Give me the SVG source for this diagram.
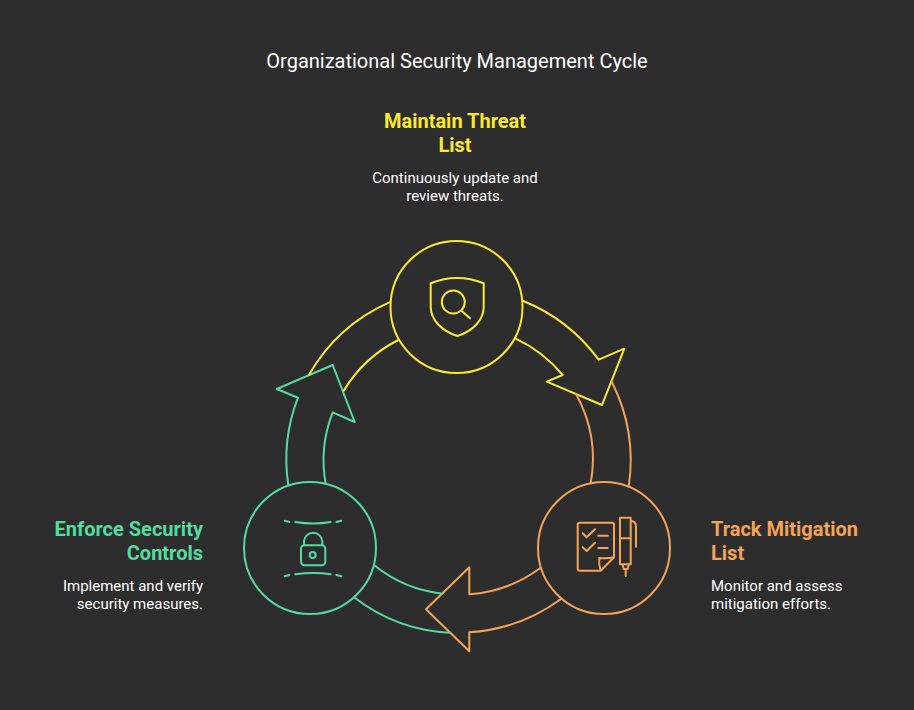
<svg xmlns="http://www.w3.org/2000/svg" width="914" height="710" viewBox="0 0 914 710">
<style>
text{font-family:Roboto,"Liberation Sans",sans-serif}
.title{font-size:20px;fill:#fff;text-anchor:middle}
.h{font-size:20px;font-weight:700}
.d{font-size:15px;fill:#fff}
.s{fill:none;stroke-width:2;stroke-linejoin:round;stroke-linecap:round}
.y{stroke:#fde92f}.o{stroke:#f5a355}.g{stroke:#52dca0}
</style>
<rect width="914" height="710" fill="#2d2d2d"/>
<text class="title" x="457" y="68">Organizational Security Management Cycle</text>
<g id="connectors">
<path class="s y" d="M522.7 300.7A175 175 0 0 1 598.7 359.7L624.3 348.7L602 405L546.7 381.7L562.7 375A137 137 0 0 0 515.7 338.7"/>
<path class="s o" d="M611.7 381.7A174.5 174.5 0 0 1 628.7 486.7M590.7 483.3A135 135 0 0 0 576 394"/>
<path class="s o" d="M540 568.3A135 135 0 0 1 469.3 594.3V567.3L426 609.3L469.3 651.3V632.3A174 174 0 0 0 561 599"/>
<path class="s g" d="M442.3 593.7A131.5 131.5 0 0 1 374.3 565.3M354.7 597.7A170 170 0 0 0 450 632.7"/>
<path class="s g" d="M288.3 485A170 170 0 0 1 298 397.7L276.7 389L332.7 365L354.7 422L332.7 412.3A132 132 0 0 0 325.7 484"/>
<path class="s y" d="M389.3 302.3A174 174 0 0 0 309 374.7M398.3 340A135 135 0 0 0 343.7 390.7"/>
</g>
<g id="node-maintain">
<circle class="s y" cx="456.5" cy="307" r="66"/>
<path class="s y" d="M430.7 283.3Q457 272.5 483.7 283.3V306.7C483.7 320 473 331 457.3 336C442 331 430.7 320 430.7 306.7Z"/>
<circle class="s y" cx="453.3" cy="302" r="11.5"/>
<path class="s y" d="M461.7 311L470 318.3"/>
<text class="h" fill="#fde92f" text-anchor="middle" x="455" y="128">Maintain Threat</text>
<text class="h" fill="#fde92f" text-anchor="middle" x="455" y="152">List</text>
<text class="d" text-anchor="middle" x="455" y="183">Continuously update and</text>
<text class="d" text-anchor="middle" x="455" y="201">review threats.</text>
</g>
<g id="node-track">
<circle class="s o" cx="604" cy="548" r="66"/>
<path class="s o" d="M600.7 570.7H579.7A2 2 0 0 1 577.7 568.7V524.7A2 2 0 0 1 579.7 522.7H612A2 2 0 0 1 614 524.7V557.3ZM600.7 570.7Q598.5 564 599.3 558Q607 559 614 557.3"/>
<path class="s o" d="M582.7 533.3L586.7 537.3L595 529.3M598.3 535.7H607.7M582.7 547.3L586.7 551L595 542.7M598.3 548H607.7"/>
<path class="s o" d="M620 517.7H630.7V564.3H620ZM620 538.3H630.7M630.7 521Q636 521 636 526.7V546.7M622.7 564.3L623.7 569H627.7L628.7 564.3M625.7 569V576"/>
<text class="h" fill="#f5a355" x="711" y="536">Track Mitigation</text>
<text class="h" fill="#f5a355" x="711" y="560">List</text>
<text class="d" x="711" y="591">Monitor and assess</text>
<text class="d" x="711" y="609">mitigation efforts.</text>
</g>
<g id="node-enforce">
<circle class="s g" cx="310" cy="548" r="66"/>
<rect class="s g" x="301" y="545.3" width="24.3" height="20" rx="3.5"/>
<path class="s g" d="M304 545.3V541A9.2 9.2 0 0 1 322.3 541V545.3"/>
<circle class="s g" cx="312.7" cy="555" r="3"/>
<path class="s g" d="M295.3 522Q313 525 330.7 522M284.7 520.7L289.3 522M336.3 522L341.3 520.7M295.3 574.3Q313 571.5 330.7 574.3M284.7 576.3L289.3 575M336.3 575L341.3 576.3"/>
<text class="h" fill="#52dca0" text-anchor="end" x="203" y="536">Enforce Security</text>
<text class="h" fill="#52dca0" text-anchor="end" x="203" y="560">Controls</text>
<text class="d" text-anchor="end" x="203" y="591">Implement and verify</text>
<text class="d" text-anchor="end" x="203" y="609">security measures.</text>
</g>
</svg>
